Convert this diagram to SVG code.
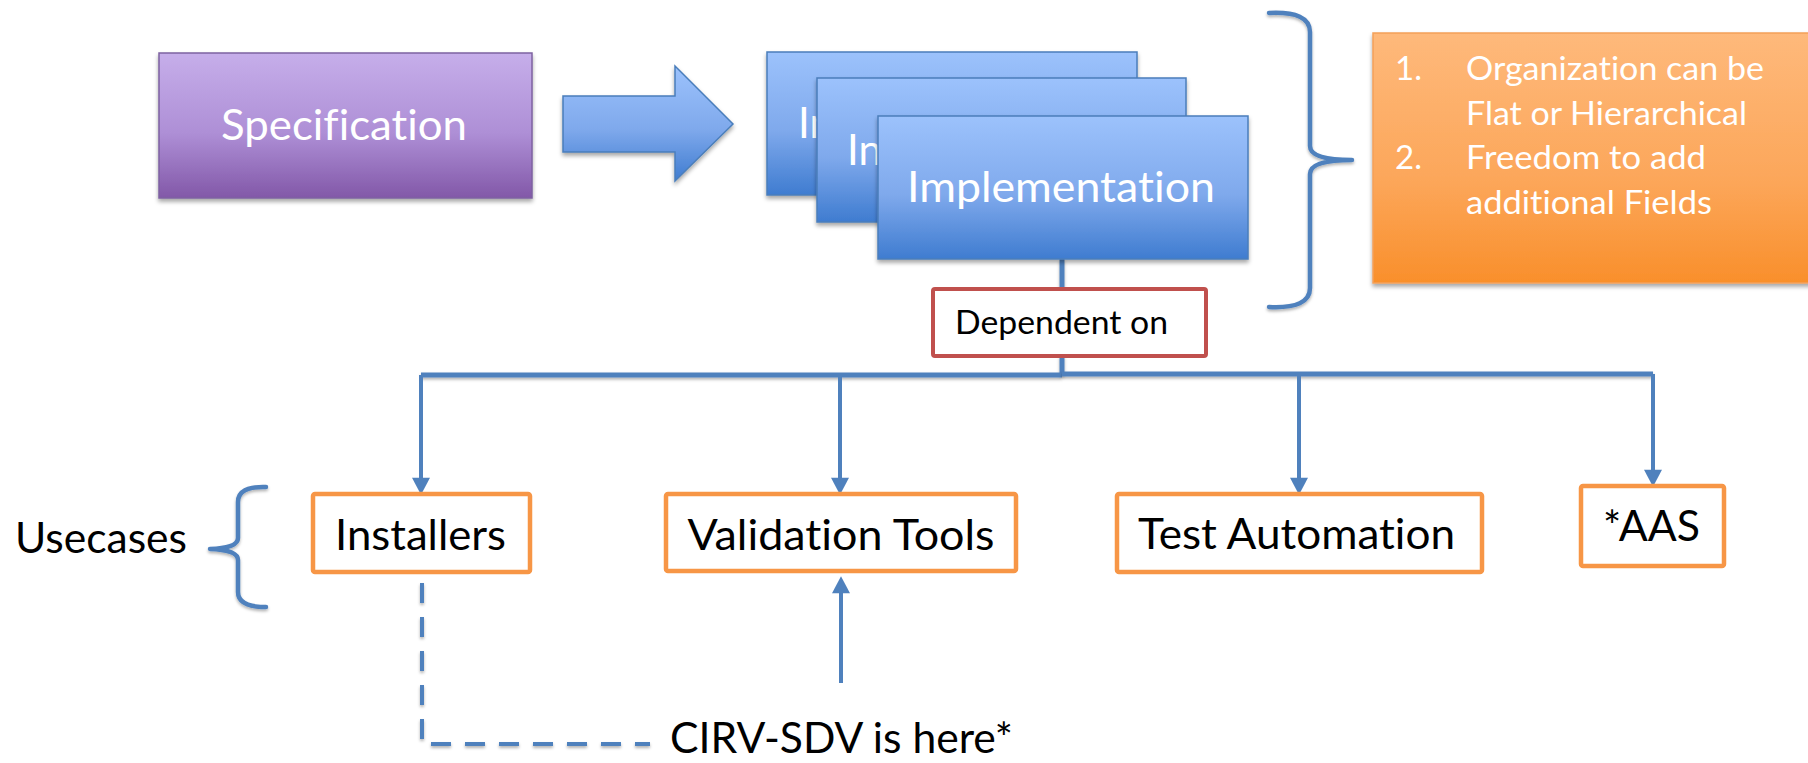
<svg xmlns="http://www.w3.org/2000/svg" width="1808" height="763" viewBox="0 0 1808 763">
<style>
.t{font-family:Lato,"Open Sans","DejaVu Sans",sans-serif;font-variant-ligatures:none}
.w{fill:#ffffff}
.k{fill:#000000}
.conn{stroke:#4F81BD;fill:none;stroke-width:4}
.bus{stroke:#4F81BD;fill:none;stroke-width:5}
.ob{fill:#ffffff;stroke:#F79646;stroke-width:4.5}
.impl{fill:url(#gBlue);stroke:#4A7EBB;stroke-width:1.5}
.brace{stroke:#4F81BD;fill:none;stroke-width:4.5;stroke-linecap:round;stroke-linejoin:round}
</style>
<defs>
<linearGradient id="gPurple" x1="0" y1="0" x2="0" y2="1">
<stop offset="0" stop-color="#C6AEEA"/><stop offset="0.55" stop-color="#AE8FD6"/><stop offset="1" stop-color="#8258A8"/>
</linearGradient>
<linearGradient id="gBlue" x1="0" y1="0" x2="0" y2="1">
<stop offset="0" stop-color="#9CC2FC"/><stop offset="0.55" stop-color="#7FA9EC"/><stop offset="1" stop-color="#3F7CD0"/>
</linearGradient>
<linearGradient id="gOrange" x1="0" y1="0" x2="0" y2="1">
<stop offset="0" stop-color="#FEB97B"/><stop offset="0.6" stop-color="#FCA659"/><stop offset="1" stop-color="#F98F2B"/>
</linearGradient>
<filter id="sh" x="-10%" y="-10%" width="120%" height="130%">
<feDropShadow dx="0" dy="3" stdDeviation="2" flood-color="#000" flood-opacity="0.35"/>
</filter>
<filter id="shl" filterUnits="userSpaceOnUse" x="0" y="0" width="1808" height="763">
<feDropShadow dx="0" dy="2" stdDeviation="1.5" flood-color="#000" flood-opacity="0.3"/>
</filter>
<marker id="ah" markerUnits="userSpaceOnUse" markerWidth="18" markerHeight="18" viewBox="0 0 16 17" refX="3" refY="8.5" orient="auto">
<path d="M0,0 L16,8.5 L0,17 z" fill="#4F81BD"/>
</marker>
<clipPath id="c1"><rect x="767" y="52" width="50" height="143"/></clipPath>
<clipPath id="c2"><rect x="817" y="78" width="61" height="144"/></clipPath>
</defs>

<g id="connectors">
<path class="bus" filter="url(#shl)" d="M1062,259 V289"/>
<path class="bus" filter="url(#shl)" d="M1062,356 V375"/>
<path class="bus" filter="url(#shl)" d="M1062,375 H421"/>
<path class="bus" filter="url(#shl)" d="M1062,374 H1653"/>
<path class="conn" marker-end="url(#ah)" d="M421,375 V481"/>
<path class="conn" marker-end="url(#ah)" d="M840,375 V481"/>
<path class="conn" marker-end="url(#ah)" d="M1299,374 V481"/>
<path class="conn" marker-end="url(#ah)" d="M1653,374 V473"/>
<path class="conn" marker-end="url(#ah)" d="M841,683 V590"/>
<path class="conn" filter="url(#shl)" stroke-dasharray="20 14" d="M422,583 V744 H650"/>
</g>

<g id="specification">
<rect x="159" y="53" width="373" height="145" fill="url(#gPurple)" stroke="#7E62A1" stroke-width="1.5" filter="url(#sh)"/>
<text class="t w" x="344" y="140" font-size="42" text-anchor="middle" textLength="246" lengthAdjust="spacingAndGlyphs">Specification</text>
</g>

<g id="arrow">
<polygon points="563,96 675,96 675,66 733,124 675,181 675,152 563,152" fill="url(#gBlue)" stroke="#4A7EBB" stroke-width="1.5" filter="url(#sh)"/>
</g>

<g id="implementation-1">
<rect class="impl" x="767" y="52" width="370" height="143" filter="url(#sh)"/>
<text class="t w" x="798" y="138" font-size="42" clip-path="url(#c1)">Im</text>
</g>
<g id="implementation-2">
<rect class="impl" x="817" y="78" width="369" height="144" filter="url(#sh)"/>
<text class="t w" x="847" y="165" font-size="42" clip-path="url(#c2)">In</text>
</g>
<g id="implementation-3">
<rect class="impl" x="878" y="116" width="370" height="143" filter="url(#sh)"/>
<text class="t w" x="907" y="202" font-size="42" textLength="308" lengthAdjust="spacingAndGlyphs">Implementation</text>
</g>

<g id="brace-right">
<path class="brace" filter="url(#shl)" d="M1269,13 Q1310,11 1310,32 L1310,146 Q1310,160 1352,160 Q1310,160 1310,174 L1310,288 Q1310,309 1269,307"/>
</g>

<g id="notes">
<rect x="1373" y="33" width="450" height="250" fill="url(#gOrange)" stroke="#F3A05A" stroke-width="1.5" filter="url(#sh)"/>
<text class="t w" font-size="33">
<tspan x="1395" y="80">1.</tspan>
<tspan x="1466" y="80" textLength="298" lengthAdjust="spacingAndGlyphs">Organization can be</tspan>
<tspan x="1466" y="125" textLength="281" lengthAdjust="spacingAndGlyphs">Flat or Hierarchical</tspan>
<tspan x="1395" y="169">2.</tspan>
<tspan x="1466" y="169" textLength="240" lengthAdjust="spacingAndGlyphs">Freedom to add</tspan>
<tspan x="1466" y="214" textLength="246" lengthAdjust="spacingAndGlyphs">additional Fields</tspan>
</text>
</g>

<g id="dependent-on">
<rect x="933" y="289" width="273" height="67" rx="2" fill="#ffffff" stroke="#C0504D" stroke-width="4"/>
<text class="t k" x="955" y="334" font-size="32.5" textLength="213" lengthAdjust="spacingAndGlyphs">Dependent on</text>
</g>

<g id="usecases">
<text class="t k" x="15" y="553" font-size="42" textLength="172" lengthAdjust="spacingAndGlyphs">Usecases</text>
<path class="brace" filter="url(#shl)" d="M266,487 Q238,486 238,502 L238,538 Q238,548 210,549 Q238,550 238,560 L238,592 Q238,607 266,607"/>
</g>

<g id="installers">
<rect class="ob" x="313" y="494" width="217" height="78" rx="2"/>
<text class="t k" x="420.5" y="550" font-size="42" text-anchor="middle" textLength="171" lengthAdjust="spacingAndGlyphs">Installers</text>
</g>

<g id="validation-tools">
<rect class="ob" x="666" y="494" width="350" height="77" rx="2"/>
<text class="t k" x="841" y="550" font-size="42" text-anchor="middle" textLength="307" lengthAdjust="spacingAndGlyphs">Validation Tools</text>
</g>

<g id="test-automation">
<rect class="ob" x="1117" y="494" width="365" height="78" rx="2"/>
<text class="t k" x="1296.5" y="549" font-size="42" text-anchor="middle" textLength="317" lengthAdjust="spacingAndGlyphs">Test Automation</text>
</g>

<g id="aas">
<rect class="ob" x="1581" y="486" width="143" height="80" rx="2"/>
<text class="t k" x="1651.5" y="541" font-size="42" text-anchor="middle" textLength="97" lengthAdjust="spacingAndGlyphs">*AAS</text>
</g>

<g id="cirv-sdv">
<text class="t k" x="670" y="753" font-size="42" textLength="343" lengthAdjust="spacingAndGlyphs">CIRV-SDV is here*</text>
</g>
</svg>
